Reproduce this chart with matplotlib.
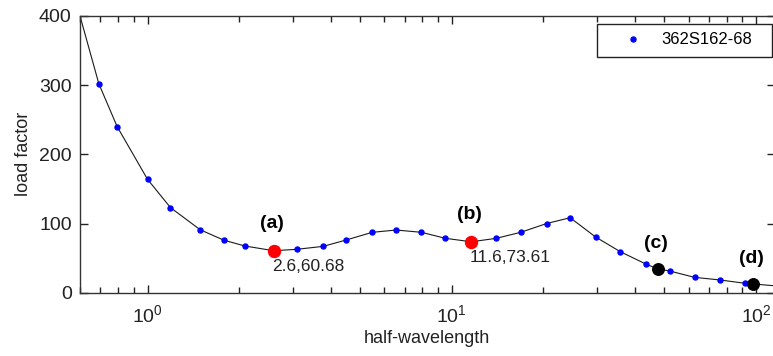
import numpy as np
import matplotlib
matplotlib.use("Agg")
import matplotlib.pyplot as plt
from matplotlib.patches import Rectangle

plt.rcParams['font.family'] = ['Liberation Sans', 'DejaVu Sans']

# load factor vs half-wavelength
curve_x = [0.6, 0.692, 0.795, 1.0, 1.19, 1.49, 1.78, 2.09, 2.6, 3.09, 3.78, 4.48,
           5.48, 6.57, 7.95, 9.53, 11.6, 14.0, 16.85, 20.5, 24.5, 29.7, 35.8,
           43.4, 47.6, 52.0, 62.8, 76.2, 92.1, 98.1, 115]
curve_y = [400, 302, 240, 164, 123, 91, 76, 67.5, 60.68, 62.7, 67, 76,
           87.3, 90.6, 87.3, 78.6, 73.61, 78.6, 87.3, 100, 108.4, 80.5, 59.3,
           41.5, 34.3, 31.4, 22.2, 18.4, 13.6, 12.6, 10]

pts_x = [0.692, 0.795, 1.0, 1.19, 1.49, 1.78, 2.09, 3.09, 3.78, 4.48, 5.48, 6.57,
         7.95, 9.53, 14.0, 16.85, 20.5, 24.5, 29.7, 35.8, 43.4, 52.0, 62.8,
         76.2, 92.1]
pts_y = [302, 240, 164, 123, 91, 76, 67.5, 62.7, 67, 76, 87.3, 90.6,
         87.3, 78.6, 78.6, 87.3, 100, 108.4, 80.5, 59.3, 41.5, 31.4, 22.2,
         18.4, 13.6]

min_x = [2.6, 11.6]
min_y = [60.68, 73.61]
min_tags = ['(a)', '(b)']
min_labels = ['2.6,60.68', '11.6,73.61']

end_x = [47.6, 98.1]
end_y = [34.3, 12.6]
end_tags = ['(c)', '(d)']

series_name = '362S162-68'

fig = plt.figure(figsize=(7.73, 3.56), dpi=100)
W, H = 773, 356
ax = fig.add_axes([80 / W, 63.3 / H, (774.5 - 80) / W, (292.7 - 16) / H])

ax.plot(curve_x, curve_y, color='#1a1a1a', lw=0.8, zorder=2)
pts, = ax.plot(pts_x, pts_y, ls='none', marker='o', ms=3.6, color='#0000ff',
               mec='#0000ff', zorder=3, label=series_name)
ax.plot(min_x, min_y, ls='none', marker='o', ms=8.6, color='#ff0000', zorder=4)
ax.plot(end_x, end_y, ls='none', marker='o', ms=8.3, color='black', zorder=4)

for x, y, tag, lab in zip(min_x, min_y, min_tags, min_labels):
    ax.annotate(tag, (x, y), xytext=(-1.5, 19.5), textcoords='offset points',
                ha='center', va='center', fontsize=14, fontweight='bold')
    ax.annotate(lab, (x, y), xytext=(-1.2, -11.3), textcoords='offset points',
                ha='left', va='center', fontsize=12.5, color='#222222')
for x, y, tag in zip(end_x, end_y, end_tags):
    ax.annotate(tag, (x, y), xytext=(-1.2, 18.5), textcoords='offset points',
                ha='center', va='center', fontsize=14, fontweight='bold')

ax.set_xscale('log')
ax.set_xlim(0.6, 115)
ax.set_ylim(0, 400)
ax.set_yticks([0, 100, 200, 300, 400])
ax.tick_params(which='both', direction='in', top=True, right=True,
               labelsize=14, colors='#222222')
ax.tick_params(axis='x', pad=8)
ax.tick_params(axis='y', pad=6)
ax.tick_params(which='major', length=6, width=1)
ax.tick_params(which='minor', length=4, width=1)
for s in ax.spines.values():
    s.set_linewidth(1.0)
    s.set_color('#333333')

ax.set_xlabel('half-wavelength', fontsize=13, labelpad=3, color='#222222')
ax.set_ylabel('load factor', fontsize=13, labelpad=5, color='#222222')

# legend with square box like the original
leg = ax.legend(handles=[pts], loc='center left', frameon=False, fontsize=12,
                handlelength=1.32, handletextpad=1.0, borderpad=0,
                bbox_to_anchor=(614 / W, 1 - 40 / H),
                bbox_transform=fig.transFigure)
fig.patches.append(Rectangle((596.7 / W, 1 - 56.7 / H), 175 / W, 32.4 / H,
                             transform=fig.transFigure, fill=False,
                             edgecolor='#222222', lw=1.0))

fig.savefig('out.png', dpi=100)
